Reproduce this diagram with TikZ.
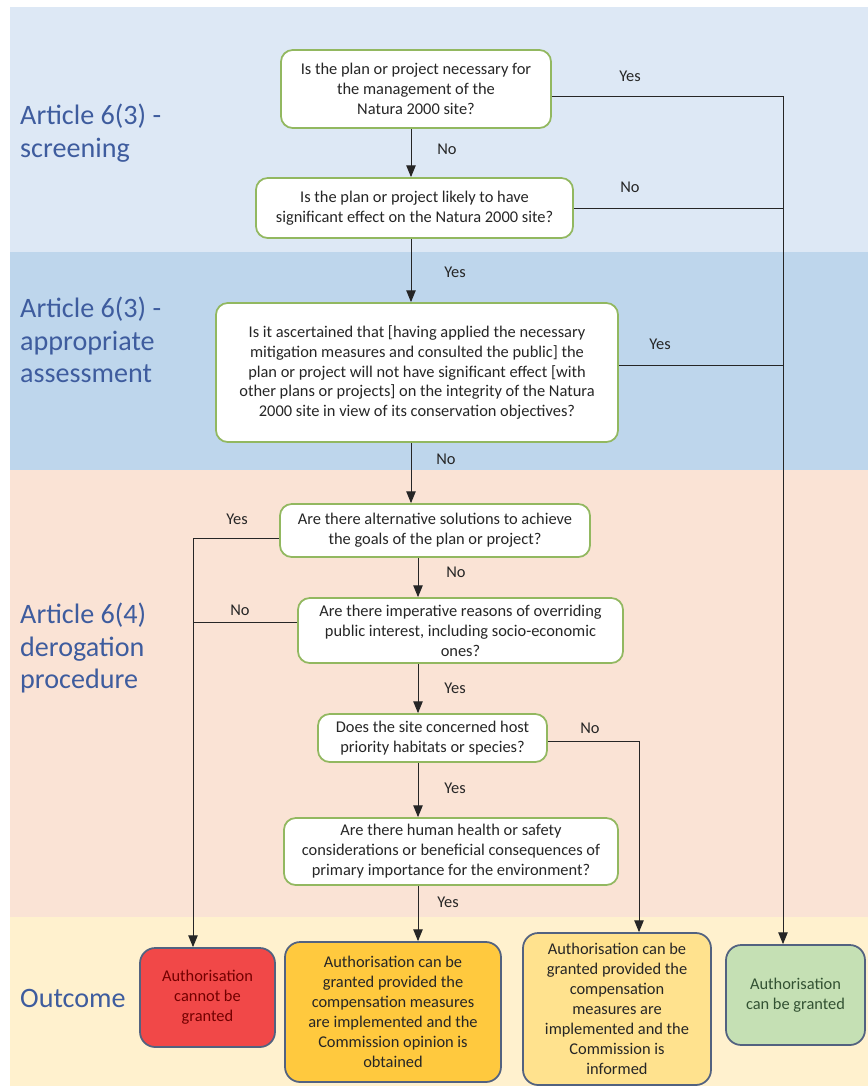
\documentclass[tikz,border=0pt]{standalone}
\usepackage{fontspec}
\setmainfont{Carlito}
\usepackage{xcolor}
\usepackage{tikz}
\usetikzlibrary{calc,backgrounds,arrows.meta}
\definecolor{bandA}{RGB}{221,232,245}
\definecolor{bandB}{RGB}{190,214,236}
\definecolor{bandC}{RGB}{250,227,213}
\definecolor{bandD}{RGB}{255,241,206}
\definecolor{headblue}{RGB}{62,92,158}
\definecolor{qgreen}{RGB}{146,184,96}
\definecolor{oborder}{RGB}{82,98,128}
\definecolor{ored}{RGB}{241,72,72}
\definecolor{oorange}{RGB}{255,201,62}
\definecolor{oyellow}{RGB}{255,226,142}
\definecolor{ogreen}{RGB}{197,224,180}
\tikzstyle{centered} = [align=center, text centered, font=\fontsize{14}{17}\selectfont]
\tikzstyle{qnode} = [centered, draw=qgreen, line width=1.5pt, fill=white, rounded corners=10pt, inner sep=0pt, text=black!85]
\tikzstyle{onode} = [centered, draw=oborder, line width=1.5pt, rounded corners=13pt, inner sep=0pt]
\tikzstyle{lnode} = [centered, inner sep=1pt, text=black!85]
\tikzstyle{hnode} = [align=left, right, inner sep=0pt, text=headblue, font=\fontsize{24}{28}\selectfont]
\tikzstyle{link} = [draw=black!85, line width=0.8pt]
\tikzstyle{arr} = [link, -{Triangle[length=10pt,width=8pt]}]

\begin{document}
\begin{tikzpicture}[x=0.03cm,y=-0.03cm]
  \useasboundingbox (0,0) rectangle (868,1087);
  % background bands
  \fill[bandA] (10,7) rectangle (868,252);
  \fill[bandB] (10,252) rectangle (868,470);
  \fill[bandC] (10,470) rectangle (868,917);
  \fill[bandD] (10,917) rectangle (868,1086);

  \node [hnode](h1) at (20, 133) {Article 6(3) -\\screening};
  \node [hnode](h2) at (20, 340) {Article 6(3) -\\appropriate\\assessment};
  \node [hnode](h3) at (20, 648) {Article 6(4)\\derogation\\procedure};
  \node [hnode](h4) at (20, 998) {Outcome};

  % questions
  \node [qnode, minimum width=8.1cm, minimum height=2.34cm](q1) at (416, 89)
    {Is the plan or project necessary for\\the management of the\\Natura 2000 site?};
  \node [qnode, minimum width=9.51cm, minimum height=1.8cm](q2) at (414.5, 208)
    {Is the plan or project likely to have\\significant effect on the Natura 2000 site?};
  \node [qnode, minimum width=12.06cm, minimum height=4.17cm](q3) at (417, 372.5)
    {Is it ascertained that [having applied the necessary\\mitigation measures and consulted the public] the\\plan or project will not have significant effect [with\\other plans or projects] on the integrity of the Natura\\2000 site in view of its conservation objectives?};
  \node [qnode, minimum width=9.3cm, minimum height=1.59cm](q4) at (435, 530.5)
    {Are there alternative solutions to achieve\\the goals of the plan or project?};
  \node [qnode, minimum width=9.75cm, minimum height=1.95cm](q5) at (460.5, 630.5)
    {Are there imperative reasons of overriding\\public interest, including socio-economic\\ones?};
  \node [qnode, minimum width=6.87cm, minimum height=1.44cm](q6) at (432.5, 738)
    {Does the site concerned host\\priority habitats or species?};
  \node [qnode, minimum width=10.02cm, minimum height=2.01cm](q7) at (451, 851.5)
    {Are there human health or safety\\considerations or beneficial consequences of\\primary importance for the environment?};

  % outcomes
  \node [onode, fill=ored, text=red!45!black, minimum width=4.05cm, minimum height=2.97cm](o1) at (207.5, 997.5)
    {Authorisation\\cannot be\\granted};
  \node [onode, fill=oorange, text=black!85, minimum width=6.48cm, minimum height=4.2cm](o2) at (393, 1012)
    {Authorisation can be\\granted provided the\\compensation measures\\are implemented and the\\Commission opinion is\\obtained};
  \node [onode, fill=oyellow, text=black!85, minimum width=5.64cm, minimum height=4.56cm](o3) at (617, 1009)
    {Authorisation can be\\granted provided the\\compensation\\measures are\\implemented and the\\Commission is\\informed};
  \node [onode, fill=ogreen, text=green!15!black!80, minimum width=4.17cm, minimum height=3cm](o4) at (795.5, 995)
    {Authorisation\\can be granted};

  % yes / no labels
  \node [lnode](a1) at (630, 76) {Yes};
  \node [lnode](a2) at (447, 149) {No};
  \node [lnode](a3) at (630, 187) {No};
  \node [lnode](a4) at (455, 272) {Yes};
  \node [lnode](a5) at (660, 344) {Yes};
  \node [lnode](a6) at (446, 459) {No};
  \node [lnode](a7) at (237, 519) {Yes};
  \node [lnode](a8) at (456, 572) {No};
  \node [lnode](a9) at (240, 610) {No};
  \node [lnode](a10) at (455, 688) {Yes};
  \node [lnode](a11) at (590, 728) {No};
  \node [lnode](a12) at (455, 788) {Yes};
  \node [lnode](a13) at (448, 902) {Yes};

  \coordinate (rline) at (783, 96);
  \coordinate (lline) at (193, 538);
  \coordinate (mline) at (639, 741);
  \coordinate (spine) at (411, 0);
  \coordinate (spineb) at (418, 0);

  \draw [arr] (q1.south -| spine) -- (q2.north -| spine);
  \draw [arr] (q2.south -| spine) -- (q3.north -| spine);
  \draw [arr] (q3.south -| spine) -- (q4.north -| spine);
  \draw [arr] (q4.south -| spineb) -- (q5.north -| spineb);
  \draw [arr] (q5.south -| spineb) -- (q6.north -| spineb);
  \draw [arr] (q6.south -| spineb) -- (q7.north -| spineb);
  \draw [arr] (q7.south -| spineb) -- (spineb |- o2.north);

  \draw [link] (q1.east |- rline) -- (rline);
  \draw [arr] (rline) -- (rline |- o4.north);
  \draw [link] (q2.east) -- (q2.east -| rline);
  \draw [link] ([yshift=0.2cm]q3.east) -- ([yshift=0.2cm]q3.east -| rline);

  \draw [link] (q4.west |- lline) -- (lline);
  \draw [arr] (lline) -- (lline |- o1.north);
  \draw [link] ([yshift=0.25cm]q5.west) -- ([yshift=0.25cm]q5.west -| lline);

  \draw [link] (q6.east |- mline) -- (mline);
  \draw [arr] (mline) -- (mline |- o3.north);
\end{tikzpicture}
\end{document}
